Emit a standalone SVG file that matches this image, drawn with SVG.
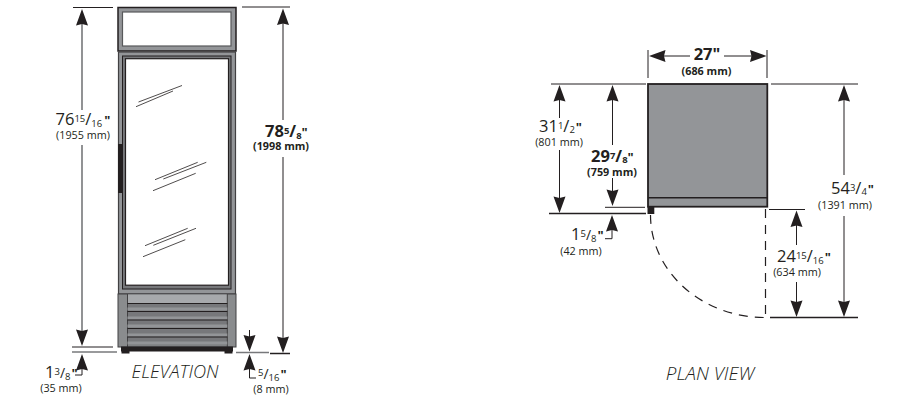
<svg xmlns="http://www.w3.org/2000/svg" width="906" height="406" viewBox="0 0 906 406">
<style>
text{font-family:"Open Sans","Noto Sans","Liberation Sans",sans-serif;fill:#231f20}
.n{font-size:16.5px}
.b{font-size:16.5px;font-weight:700}
.m{font-size:10.8px}
.mb{font-size:10.8px;font-weight:700}
.s{font-size:9.5px}
.q{font-size:13px;font-weight:700}
.t{font-style:italic;font-weight:300}
.c{text-anchor:middle}
.l{fill:none;stroke:#231f20;stroke-width:1}
.g{fill:none;stroke:#77787b;stroke-width:1.6}
.k{fill:none;stroke:#231f20;stroke-width:1.5}
.h{fill:#231f20;stroke:none}
.gl{stroke:#231f20;stroke-width:.8;fill:none}
.d{fill:none;stroke:#231f20;stroke-width:1.2;stroke-dasharray:9 7}
</style>
<defs>
<path id="up" class="h" d="M0 0L6 16.500L0 15L-6 16.500Z"/>
<path id="dn" class="h" d="M0 0L6 -16.500L0 -15L-6 -16.500Z"/>
<path id="lf" class="h" d="M0 0L16.500 -6L15 0L16.500 6Z"/>
<path id="rt" class="h" d="M0 0L-16.500 -6L-15 0L-16.500 6Z"/>
</defs>
<g id="elevation-unit">
<rect x="118" y="7.500" width="118" height="43.500" fill="#939598" stroke="#231f20" stroke-width="1.500"/>
<rect x="122.500" y="12" width="108.500" height="34" fill="#fff" stroke="#58595b" stroke-width="1.200"/>
<rect x="118.500" y="52" width="117" height="242" fill="#939598" stroke="#414042" stroke-width="1.200"/>
<rect x="122.500" y="56" width="108.500" height="233" fill="#77787b" stroke="#231f20" stroke-width="1"/>
<rect x="125.500" y="58.700" width="103" height="226.500" fill="#fff" stroke="#231f20" stroke-width="1.200"/>
<rect x="118" y="144" width="4.500" height="49" fill="#231f20"/>
<path class="gl" d="M138.500 102L182 85.500M136 106.700L173 91M155 179.700L197.700 162.300M163.300 179L206.300 162.300M153 190.700L195.700 173.300M145 245.700L187.700 228.300M153.300 245.300L196 228.300M143 256.700L185.300 239.700"/>
<rect x="118" y="294" width="118" height="53" fill="#8a8c8e" stroke="#414042" stroke-width="1"/>
<rect x="127.500" y="294.500" width="99.800" height="9" fill="#a7a9ac"/>
<rect x="127.500" y="303.500" width="99.800" height="42" fill="#77787b"/>
<path fill="none" stroke="#414042" stroke-width="1" d="M127.500 294V347M227.300 294V347"/>
<path fill="none" stroke="#939598" stroke-width="3" d="M127.500 309H227.300M127.500 318H227.300M127.500 326H227.300M127.500 335H227.300M127.500 343H227.300"/>
<path fill="none" stroke="#231f20" stroke-width="1" d="M127.500 303.500H227.300M127.500 311.500H227.300M127.500 320H227.300M127.500 328.500H227.300M127.500 337H227.300"/>
<rect x="121" y="346.500" width="112" height="5" fill="#231f20"/>
<rect x="121.500" y="348" width="8" height="5.500" fill="#231f20"/>
<rect x="224.500" y="348" width="8" height="5.500" fill="#231f20"/>
</g>
<g id="plan-unit">
<rect x="648" y="84" width="119.300" height="122.700" fill="#939598" stroke="#231f20" stroke-width="1.800"/>
<path d="M648 197.700H767.300" stroke="#231f20" stroke-width="1.500"/>
<rect x="647.500" y="206.500" width="6.800" height="7.500" fill="#231f20"/>
<path class="d" d="M650.500 215A114.500 102.500 0 0 0 765 317.500"/>
<path class="d" d="M765.500 209V317.500"/>
</g>
<g id="connectors">
<path class="l" d="M73 7.500H113"/>
<path class="g" d="M82 15V110M82 145V335"/>
<use href="#up" x="82" y="9"/>
<use href="#dn" x="82" y="346"/>
<path class="l" d="M72 347H113"/>
<path class="g" d="M72 352H117"/>
<use href="#up" x="82" y="354"/>
<path class="l" d="M82 366V375H75"/>
<path class="l" d="M242 7H290"/>
<path class="l" d="M283 15V120M283 157V340"/>
<use href="#up" x="283" y="8.500"/>
<use href="#dn" x="283" y="353"/>
<path class="k" d="M270 353.500H290"/>
<path class="g" d="M236 352.500H269"/>
<path class="l" d="M249.500 330V345"/>
<use href="#dn" x="249.500" y="351.500"/>
<use href="#up" x="249.500" y="354"/>
<path class="l" d="M249.500 368V378H256"/>
<path class="l" d="M648 50V78M767 50V78"/>
<path class="l" d="M660 56H690M724 56H755"/>
<use href="#lf" x="649" y="56"/>
<use href="#rt" x="766.500" y="56"/>
<path class="l" d="M551 84H646"/>
<path class="k" d="M549 213.500H646"/>
<path class="l" d="M559.500 95V118M559.500 150V200"/>
<use href="#up" x="559.500" y="85"/>
<use href="#dn" x="559.500" y="213"/>
<path class="l" d="M612.500 95V145M612.500 178V195"/>
<use href="#up" x="612.500" y="85"/>
<use href="#dn" x="612.500" y="206"/>
<path class="l" d="M605 207.300H645"/>
<use href="#up" x="612" y="215"/>
<path class="l" d="M612 228V238.700H605"/>
<path class="l" d="M771 84H858M769 209.500H805"/>
<path class="k" d="M770 317.500H858"/>
<path class="l" d="M796.500 220V245M796.500 282V305M844 95V175M844 216V305"/>
<use href="#up" x="796.500" y="210.500"/>
<use href="#dn" x="796.500" y="317"/>
<use href="#up" x="844" y="85"/>
<use href="#dn" x="844" y="317"/>
</g>
<g id="labels">
<text x="55.500" y="125" class="n">76<tspan class="s" dy="-3">15</tspan><tspan dy="3">/</tspan><tspan class="s" dy="2">16</tspan><tspan class="q" dx="2" dy="-2">"</tspan></text>
<text x="83" y="139" class="m c">(1955 mm)</text>
<text x="265" y="137" class="b">78<tspan class="s" dy="-3">5</tspan><tspan dy="3">/</tspan><tspan class="s" dy="2">8</tspan><tspan class="q" dy="-2">"</tspan></text>
<text x="281" y="150" class="mb c">(1998 mm)</text>
<text x="45" y="378" class="n">1<tspan class="s" dy="-3">3</tspan><tspan dy="3" font-size="14">/</tspan><tspan class="s" dy="2">8</tspan><tspan class="q" dx="1" dy="-2">"</tspan></text>
<text x="61" y="392" class="m c">(35 mm)</text>
<text x="258" y="379" class="n"><tspan class="s" dy="-3">5</tspan><tspan dy="3" font-size="14">/</tspan><tspan class="s" dy="2">16</tspan><tspan class="q" dx="1" dy="-2">"</tspan></text>
<text x="271" y="393" class="m c">(8 mm)</text>
<text x="175" y="378" class="t c" font-size="18.200">ELEVATION</text>
<text x="707" y="60" class="b c">27"</text>
<text x="706.500" y="75" class="mb c">(686 mm)</text>
<text x="539" y="132" class="n">31<tspan class="s" dy="-3">1</tspan><tspan dy="3">/</tspan><tspan class="s" dy="1">2</tspan><tspan class="q" dx="1" dy="-1">"</tspan></text>
<text x="559" y="146" class="m c">(801 mm)</text>
<text x="591" y="162" class="b">29<tspan class="s" dy="-3">7</tspan><tspan dy="3">/</tspan><tspan class="s" dy="1">8</tspan><tspan class="q" dy="-1">"</tspan></text>
<text x="612" y="176" class="mb c">(759 mm)</text>
<text x="571" y="240" class="n">1<tspan class="s" dy="-3">5</tspan><tspan dy="3" font-size="14">/</tspan><tspan class="s" dy="2">8</tspan><tspan class="q" dx="1" dy="-2">"</tspan></text>
<text x="581" y="255" class="m c">(42 mm)</text>
<text x="777" y="262" class="n">24<tspan class="s" dy="-3">15</tspan><tspan dy="3">/</tspan><tspan class="s" dy="2">16</tspan><tspan class="q" dx="1" dy="-2">"</tspan></text>
<text x="797" y="276" class="m c">(634 mm)</text>
<text x="831" y="194" class="n">54<tspan class="s" dy="-3">3</tspan><tspan dy="3">/</tspan><tspan class="s" dy="1">4</tspan><tspan class="q" dx="1" dy="-1">"</tspan></text>
<text x="845" y="209" class="m c">(1391 mm)</text>
<text x="710" y="380" class="t c" font-size="18.800">PLAN VIEW</text>
</g>
</svg>
